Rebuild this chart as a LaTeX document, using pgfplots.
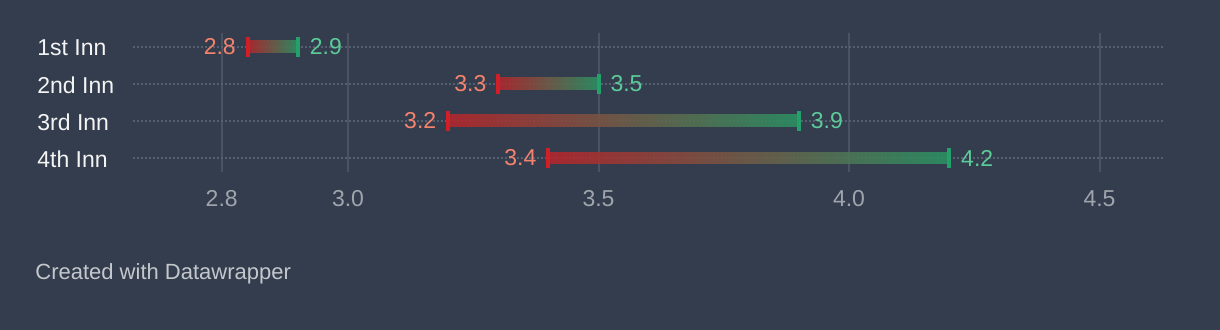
\documentclass[border=0pt]{standalone}
\usepackage{pgfplots}
\pgfplotsset{compat=1.18}
\usepackage{pgfplotstable}
\usepackage{fontspec}
\setmainfont{Liberation Sans}

\definecolor{bg}{HTML}{333D4D}
\definecolor{gridGray}{HTML}{4B5363}
\definecolor{dotGray}{HTML}{566070}
\definecolor{tickGray}{HTML}{A0A5AD}
\definecolor{footGray}{HTML}{C4C7CC}
\definecolor{labelWhite}{HTML}{F4F4F4}
\definecolor{barRed}{HTML}{B2262C}
\definecolor{barGreen}{HTML}{2A9063}
\definecolor{capRed}{HTML}{D01F26}
\definecolor{capGreen}{HTML}{24A06A}
\definecolor{lowText}{HTML}{F5826C}
\definecolor{highText}{HTML}{5CCB99}

% innings: lowest and highest value per row
\pgfplotstableread{
row lo  hi
0   2.8 2.9
1   3.3 3.5
2   3.2 3.9
3   3.4 4.2
}\innings

\newcommand{\lblfont}{\fontsize{11.5}{13}\selectfont}

\begin{document}
\begin{tikzpicture}[x=1pt,y=1pt]
\fill[bg] (0,0) rectangle (610,165);
\begin{axis}[
  at={(66.5pt,79pt)}, anchor=south west,
  scale only axis, width=515pt, height=69.5pt,
  xmin=2.5709, xmax=4.6267,
  ymin=-0.378, ymax=3.378, y dir=reverse,
  clip=false,
  axis line style={draw=none},
  major tick length=0pt,
  xtick={2.748,3,3.5,4,4.5},
  xticklabels={2.8,3.0,3.5,4.0,4.5},
  ytick={0,1,2,3},
  yticklabels={1st Inn,2nd Inn,3rd Inn,4th Inn},
  xmajorgrids, ymajorgrids,
  x grid style={gridGray, line width=1pt},
  y grid style={dotGray, line width=0.8pt, dash pattern=on 0.8pt off 1.2pt},
  xticklabel style={font=\lblfont, text=tickGray, anchor=base, inner sep=0pt, yshift=-17.5pt},
  yticklabel style={font=\lblfont, text=labelWhite, anchor=west, inner sep=0pt, xshift=-48pt, yshift=-0.4pt},
  /pgf/number format/assume math mode=true,
  /pgf/number format/fixed,
  /pgf/number format/precision=1,
]
% gradient bars, one per inning
\addplot[draw=none, left color=barRed, right color=barGreen, fill opacity=0.9]
  coordinates {(2.8,-0.162) (2.9,-0.162) (2.9,0.162) (2.8,0.162)} -- cycle;
\addplot[draw=none, left color=barRed, right color=barGreen, fill opacity=0.9]
  coordinates {(3.3,0.838) (3.5,0.838) (3.5,1.162) (3.3,1.162)} -- cycle;
\addplot[draw=none, left color=barRed, right color=barGreen, fill opacity=0.9]
  coordinates {(3.2,1.838) (3.9,1.838) (3.9,2.162) (3.2,2.162)} -- cycle;
\addplot[draw=none, left color=barRed, right color=barGreen, fill opacity=0.9]
  coordinates {(3.4,2.838) (4.2,2.838) (4.2,3.162) (3.4,3.162)} -- cycle;

% end caps with value labels
\addplot[only marks, mark=|, mark size=5pt,
  mark options={draw=capRed, line width=2pt},
  point meta=x, nodes near coords,
  nodes near coords style={anchor=east, xshift=-5pt, inner sep=0pt,
    font=\lblfont, text=lowText}]
  table[x=lo, y=row] {\innings};
\addplot[only marks, mark=|, mark size=5pt,
  mark options={draw=capGreen, line width=2pt},
  point meta=x, nodes near coords,
  nodes near coords style={anchor=west, xshift=5pt, inner sep=0pt,
    font=\lblfont, text=highText}]
  table[x=hi, y=row] {\innings};
\end{axis}
\node[anchor=base west, inner sep=0pt, text=footGray,
  font=\fontsize{11}{13}\selectfont] at (17.5,25) {Created with Datawrapper};
\end{tikzpicture}
\end{document}
